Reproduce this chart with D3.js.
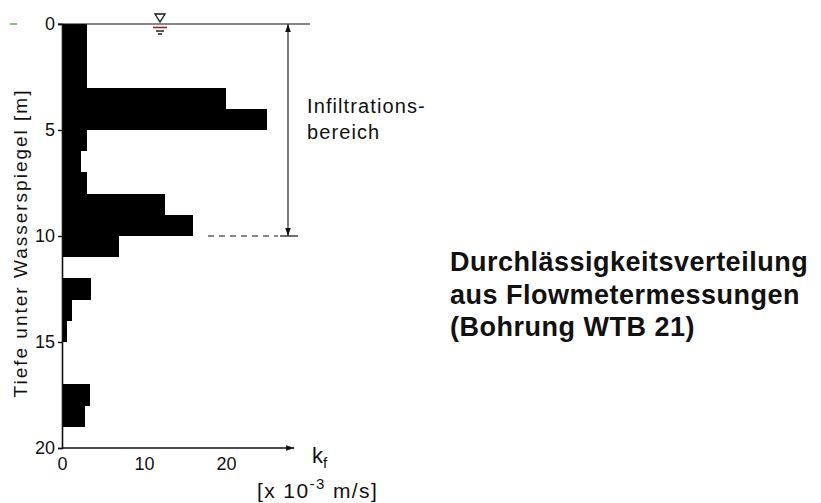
<!DOCTYPE html>
<html>
<head>
<meta charset="utf-8">
<script src="https://cdn.jsdelivr.net/npm/d3@7"></script>
<style>
  body { margin: 0; background: #fff; }
  svg { display: block; font-family: "Liberation Sans", Arial, sans-serif; }
</style>
</head>
<body>
<div id="chart"></div>
<script>
// Tiefenintervalle [m] und kf-Werte [x 10^-3 m/s]
var depthTop    = [0, 3, 4, 5, 6, 7, 8, 9, 10, 12, 13, 14, 17, 18];
var depthBottom = [3, 4, 5, 6, 7, 8, 9, 10, 11, 13, 14, 15, 18, 19];
var kfValues    = [3, 20, 25, 3, 2.3, 3, 12.6, 16, 7, 3.5, 1.2, 0.6, 3.4, 2.8];

var yTicks = [0, 5, 10, 15, 20];
var xTicks = [0, 10, 20];

var titleLines = ["Durchlässigkeitsverteilung", "aus Flowmetermessungen", "(Bohrung WTB 21)"];
var zoneLines = ["Infiltrations-", "bereich"];
var zoneRange = [0, 10];

var width = 821, height = 503;

var svg = d3.select("#chart").append("svg")
  .attr("width", width)
  .attr("height", height);

// Skalen
var y = d3.scaleLinear().domain([0, 20]).range([24, 448]);
var x = d3.scaleLinear().domain([0, 20]).range([62, 226]);

var bars = depthTop.map(function(d, i) {
  return { top: d, bottom: depthBottom[i], value: kfValues[i] };
});

svg.append("defs").append("marker")
  .attr("id", "arrow")
  .attr("viewBox", "0 0 10 10")
  .attr("refX", 10).attr("refY", 5)
  .attr("markerWidth", 12).attr("markerHeight", 8)
  .attr("markerUnits", "userSpaceOnUse")
  .attr("orient", "auto-start-reverse")
  .append("path")
  .attr("d", "M0,1.5 L10,5 L0,8.5 Z")
  .attr("fill", "#111");

// Balken
svg.selectAll("rect.bar")
  .data(bars)
  .join("rect")
  .attr("class", "bar")
  .attr("x", x(0))
  .attr("y", function(d) { return y(d.top); })
  .attr("width", function(d) { return x(d.value) - x(0); })
  .attr("height", function(d) { return y(d.bottom) - y(d.top); })
  .attr("fill", "#000")
  .attr("shape-rendering", "crispEdges");

// Achsen
var yAxis = d3.axisLeft(y).tickValues(yTicks).tickSize(4).tickPadding(3);
var gy = svg.append("g").attr("transform", "translate(" + x(0) + ",0)").call(yAxis);
gy.select(".domain").attr("stroke", "#111").attr("stroke-width", 1.6);
gy.selectAll(".tick line").attr("stroke", "#111").attr("stroke-width", 1.4);
gy.selectAll(".tick text")
  .attr("font-size", 18)
  .attr("fill", "#111")
  .attr("font-family", "Liberation Sans, Arial, sans-serif");

var xAxis = d3.axisBottom(x).tickValues(xTicks).tickSize(0).tickPadding(9);
var gx = svg.append("g").attr("transform", "translate(0," + y(20) + ")").call(xAxis);
gx.select(".domain").remove();
gx.selectAll(".tick text")
  .attr("font-size", 18)
  .attr("fill", "#111")
  .attr("font-family", "Liberation Sans, Arial, sans-serif");

svg.append("line")
  .attr("x1", x(0)).attr("x2", x(28.3))
  .attr("y1", y(20)).attr("y2", y(20))
  .attr("stroke", "#111").attr("stroke-width", 1.6)
  .attr("marker-end", "url(#arrow)");

// Achsenbeschriftung
var kf = svg.append("text")
  .attr("x", 312).attr("y", 463)
  .attr("font-size", 22)
  .attr("fill", "#111");
kf.append("tspan").text("k");
kf.append("tspan").attr("dy", 5).attr("font-size", 15).text("f");

var unit = svg.append("text")
  .attr("x", 257).attr("y", 498)
  .attr("font-size", 21)
  .attr("letter-spacing", 1.4)
  .attr("fill", "#111");
unit.append("tspan").text("[x 10");
unit.append("tspan").attr("dy", -9).attr("font-size", 15).text("-3");
unit.append("tspan").attr("dy", 9).text(" m/s]");

svg.append("text")
  .attr("transform", "translate(27," + 243 + ") rotate(-90)")
  .attr("text-anchor", "middle")
  .attr("font-size", 19)
  .attr("letter-spacing", 2)
  .attr("fill", "#111")
  .text("Tiefe unter Wasserspiegel [m]");

// Wasserspiegel
svg.append("line")
  .attr("x1", x(0) - 4).attr("x2", 310)
  .attr("y1", y(0)).attr("y2", y(0))
  .attr("stroke", "#111").attr("stroke-width", 1.2);

svg.append("line")
  .attr("x1", 10).attr("x2", 17)
  .attr("y1", y(0)).attr("y2", y(0))
  .attr("stroke", "#5aa86a").attr("stroke-width", 1.5);

var wx = 160;
svg.append("path")
  .attr("d", "M" + (wx - 5) + "," + (y(0) - 10) + " L" + (wx + 5) + "," + (y(0) - 10) + " L" + wx + "," + (y(0) - 2) + " Z")
  .attr("fill", "none").attr("stroke", "#111").attr("stroke-width", 1.3);
svg.append("line")
  .attr("x1", wx - 7).attr("x2", wx + 7)
  .attr("y1", y(0) + 3.5).attr("y2", y(0) + 3.5)
  .attr("stroke", "#8b2a2a").attr("stroke-width", 1.6);
svg.append("line")
  .attr("x1", wx - 4).attr("x2", wx + 4)
  .attr("y1", y(0) + 7).attr("y2", y(0) + 7)
  .attr("stroke", "#111").attr("stroke-width", 1.4);
svg.append("line")
  .attr("x1", wx - 2).attr("x2", wx + 2)
  .attr("y1", y(0) + 10).attr("y2", y(0) + 10)
  .attr("stroke", "#111").attr("stroke-width", 1.4);

// Infiltrationsbereich
var ax = 288;
svg.append("line")
  .attr("x1", ax).attr("x2", ax)
  .attr("y1", y(zoneRange[0])).attr("y2", y(zoneRange[1]))
  .attr("stroke", "#111").attr("stroke-width", 1.1)
  .attr("marker-start", "url(#arrow)")
  .attr("marker-end", "url(#arrow)");

svg.append("line")
  .attr("x1", 208).attr("x2", 278)
  .attr("y1", y(zoneRange[1])).attr("y2", y(zoneRange[1]))
  .attr("stroke", "#111").attr("stroke-width", 1.2)
  .attr("stroke-dasharray", "6,5");
svg.append("line")
  .attr("x1", 280).attr("x2", 298)
  .attr("y1", y(zoneRange[1])).attr("y2", y(zoneRange[1]))
  .attr("stroke", "#111").attr("stroke-width", 1.2);

svg.append("g")
  .selectAll("text")
  .data(zoneLines)
  .join("text")
  .attr("x", 307)
  .attr("y", function(d, i) { return 113 + i * 26; })
  .attr("font-size", 20)
  .attr("letter-spacing", 1.1)
  .attr("fill", "#111")
  .text(function(d) { return d; });

// Titel
svg.append("g")
  .selectAll("text")
  .data(titleLines)
  .join("text")
  .attr("x", 450)
  .attr("y", function(d, i) { return 271 + i * 32.5; })
  .attr("font-size", 27)
  .attr("font-weight", "bold")
  .attr("letter-spacing", 0.5)
  .attr("fill", "#111")
  .text(function(d) { return d; });
</script>
</body>
</html>
